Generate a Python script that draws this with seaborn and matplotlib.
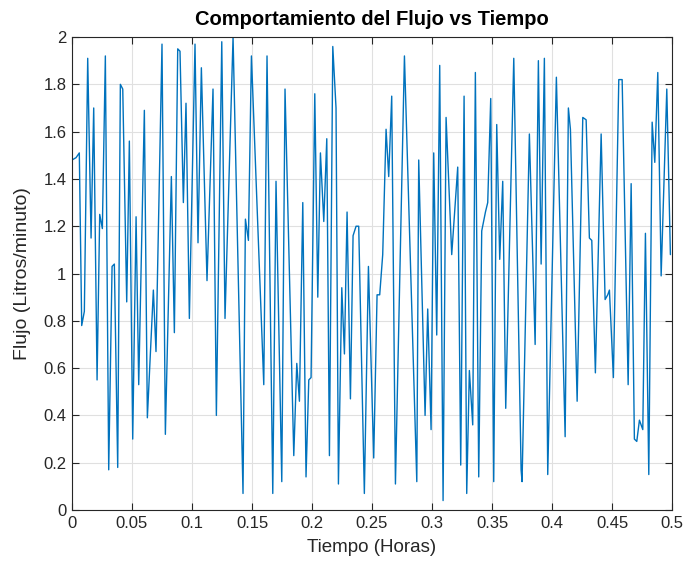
import numpy as np
import pandas as pd
import seaborn as sns
import matplotlib.pyplot as plt
from matplotlib.ticker import FuncFormatter

# Tiempo (horas) and flujo (litros/minuto)
tiempo = [0.0000, 0.0034, 0.0061, 0.0081, 0.0103, 0.0131, 0.0159, 0.0181, 0.0209, 0.0231,
          0.0253, 0.0278, 0.0306, 0.0334, 0.0353, 0.0381, 0.0403, 0.0423, 0.0456, 0.0478,
          0.0506, 0.0534, 0.0556, 0.0603, 0.0628, 0.0678, 0.0700, 0.0750, 0.0778, 0.0828,
          0.0853, 0.0881, 0.0900, 0.0928, 0.0950, 0.0978, 0.1025, 0.1050, 0.1078, 0.1125,
          0.1175, 0.1203, 0.1248, 0.1275, 0.1342, 0.1425, 0.1445, 0.1470, 0.1495, 0.1598,
          0.1625, 0.1673, 0.1700, 0.1748, 0.1775, 0.1848, 0.1873, 0.1895, 0.1923, 0.1950,
          0.1973, 0.1992, 0.2023, 0.2048, 0.2070, 0.2098, 0.2123, 0.2145, 0.2173, 0.2200,
          0.2220, 0.2248, 0.2270, 0.2292, 0.2320, 0.2342, 0.2367, 0.2389, 0.2436, 0.2470,
          0.2514, 0.2542, 0.2564, 0.2589, 0.2617, 0.2639, 0.2664, 0.2695, 0.2770, 0.2873,
          0.2889, 0.2942, 0.2964, 0.2992, 0.3014, 0.3039, 0.3064, 0.3092, 0.3117, 0.3164,
          0.3214, 0.3239, 0.3267, 0.3289, 0.3311, 0.3339, 0.3361, 0.3389, 0.3414, 0.3445,
          0.3464, 0.3489, 0.3514, 0.3539, 0.3564, 0.3589, 0.3614, 0.3681, 0.3742, 0.3750,
          0.3811, 0.3859, 0.3886, 0.3909, 0.3936, 0.3964, 0.4036, 0.4109, 0.4136, 0.4153,
          0.4209, 0.4256, 0.4284, 0.4311, 0.4331, 0.4361, 0.4409, 0.4442, 0.4464, 0.4478,
          0.4511, 0.4556, 0.4584, 0.4634, 0.4659, 0.4686, 0.4706, 0.4728, 0.4756, 0.4778,
          0.4806, 0.4834, 0.4856, 0.4881, 0.4909, 0.4956, 0.4986]
flujo = [1.48, 1.49, 1.51, 0.78, 0.84, 1.91, 1.15, 1.70, 0.55, 1.25,
         1.19, 1.92, 0.17, 1.03, 1.04, 0.18, 1.80, 1.78, 0.88, 1.56,
         0.30, 1.24, 0.53, 1.69, 0.39, 0.93, 0.67, 1.97, 0.32, 1.41,
         0.75, 1.95, 1.94, 1.30, 1.72, 0.81, 1.97, 1.13, 1.87, 0.97,
         1.78, 0.40, 1.98, 0.81, 2.00, 0.07, 1.23, 1.14, 1.92, 0.53,
         1.92, 0.07, 1.39, 0.12, 1.78, 0.23, 0.62, 0.46, 1.30, 0.14,
         0.55, 0.56, 1.76, 0.90, 1.51, 1.22, 1.57, 0.23, 1.96, 1.70,
         0.11, 0.94, 0.66, 1.26, 0.47, 1.16, 1.20, 1.20, 0.07, 1.03,
         0.22, 0.91, 0.91, 1.08, 1.61, 1.41, 1.75, 0.11, 1.92, 0.12,
         1.48, 0.40, 0.85, 0.34, 1.51, 0.74, 1.88, 0.04, 1.66, 1.08,
         1.45, 0.19, 1.75, 0.07, 0.59, 0.36, 1.85, 0.14, 1.18, 1.26,
         1.30, 1.74, 0.12, 1.63, 1.06, 1.39, 0.43, 1.91, 0.17, 0.12,
         1.59, 0.70, 1.90, 1.04, 1.91, 0.15, 1.83, 0.31, 1.70, 1.61,
         0.46, 1.66, 1.65, 1.15, 1.14, 0.58, 1.59, 0.89, 0.91, 0.93,
         0.56, 1.82, 1.82, 0.53, 1.38, 0.30, 0.29, 0.38, 0.34, 1.17,
         0.15, 1.64, 1.47, 1.85, 0.99, 1.78, 1.08]

x_ticks = [0, 0.05, 0.1, 0.15, 0.2, 0.25, 0.3, 0.35, 0.4, 0.45, 0.5]
y_ticks = [0, 0.2, 0.4, 0.6, 0.8, 1.0, 1.2, 1.4, 1.6, 1.8, 2.0]

df = pd.DataFrame({"Tiempo": tiempo, "Flujo": flujo})

sns.set_theme(style="whitegrid")
plt.rcParams['font.family'] = ['Liberation Sans', 'DejaVu Sans']

fig = plt.figure(figsize=(6.83, 5.67), dpi=100)
ax = fig.add_axes([0.1054, 0.1005, 0.8786, 0.8342])

sns.lineplot(data=df, x="Tiempo", y="Flujo", ax=ax, color="#0072BD",
             linewidth=1.0, estimator=None, sort=False)

ax.set_xlim(0, 0.5)
ax.set_ylim(0, 2)
ax.set_xticks(x_ticks)
ax.set_yticks(y_ticks)
fmt = FuncFormatter(lambda v, p: "%g" % round(v, 2))
ax.xaxis.set_major_formatter(fmt)
ax.yaxis.set_major_formatter(fmt)

ax.grid(True, color="#e0e0e0", linewidth=0.8)
for s in ax.spines.values():
    s.set_visible(True)
    s.set_color("#262626")
    s.set_linewidth(0.8)

ax.tick_params(axis="both", which="both", direction="in", length=5, width=0.8,
               colors="#262626", labelsize=12, top=True, right=True,
               bottom=True, left=True, labeltop=False, labelright=False, pad=4)

ax.set_xlabel("Tiempo (Horas)", fontsize=13.5, color="#262626", labelpad=6)
ax.set_ylabel("Flujo (Litros/minuto)", fontsize=14, color="#262626", labelpad=9)
ax.set_title("Comportamiento del Flujo vs Tiempo", fontsize=14.5, fontweight="bold",
             color="black", pad=9)

fig.savefig("out.png", dpi=100)
